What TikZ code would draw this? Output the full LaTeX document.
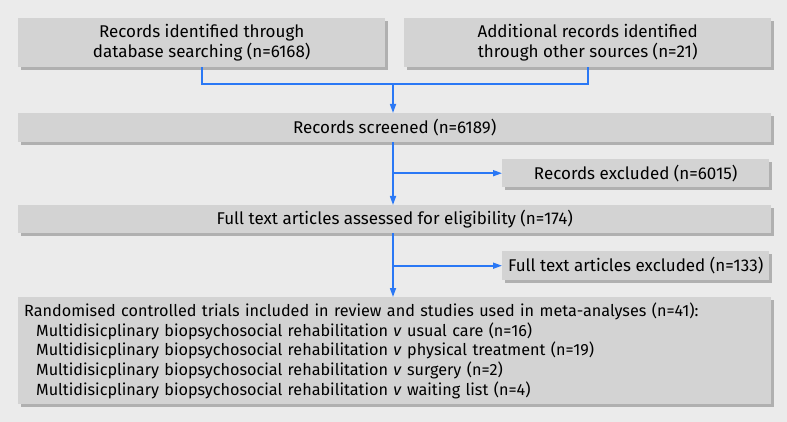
\documentclass[tikz,border=0pt]{standalone}
\usepackage{fontspec}
\setmainfont{Fira Sans}
\usetikzlibrary{arrows.meta,shadows}
\definecolor{bg}{HTML}{EBEBEB}
\definecolor{boxfill}{HTML}{D3D3D3}
\definecolor{shadowc}{HTML}{B0B0B0}
\definecolor{arrowblue}{HTML}{2A78F5}
\begin{document}
\begin{tikzpicture}[x=1pt,y=-1pt,
  box/.style={fill=boxfill, draw=none, anchor=north west, inner sep=0pt,
    font=\fontsize{17}{20}\selectfont, align=center,
    drop shadow={shadow xshift=2.5pt, shadow yshift=-2.5pt, fill=shadowc, opacity=1}},
  conn/.style={draw=arrowblue, line width=1.6pt},
  arr/.style={conn, -{Triangle[length=9pt,width=6pt]}}]
\useasboundingbox (0,0) rectangle (787,422);
\fill[bg] (0,0) rectangle (787,422);
\node[box, minimum width=367pt, minimum height=49pt] (b1) at (18,18) {Records identified through\\database searching (n=6168)};
\node[box, minimum width=367pt, minimum height=49pt] (b2) at (404,18) {Additional records identified\\through other sources (n=21)};
\node[box, minimum width=753pt, minimum height=29pt] (b3) at (18,113) {Records screened (n=6189)};
\node[box, minimum width=267pt, minimum height=28pt] (e1) at (502,159) {Records excluded (n=6015)};
\node[box, minimum width=753pt, minimum height=28pt] (b4) at (18,205) {Full text articles assessed for eligibility (n=174)};
\node[box, minimum width=267pt, minimum height=29pt] (e2) at (502,251) {Full text articles excluded (n=133)};
\node[box, minimum width=753pt, minimum height=107pt, align=left, text width=741pt,
  font=\fontsize{16.2}{19.7}\selectfont] (b5) at (18,297) {Randomised controlled trials included in review and studies used in meta-analyses (n=41):\\
\hspace*{12pt}Multidisicplinary biopsychosocial rehabilitation \textit{v} usual care (n=16)\\
\hspace*{12pt}Multidisicplinary biopsychosocial rehabilitation \textit{v} physical treatment (n=19)\\
\hspace*{12pt}Multidisicplinary biopsychosocial rehabilitation \textit{v} surgery (n=2)\\
\hspace*{12pt}Multidisicplinary biopsychosocial rehabilitation \textit{v} waiting list (n=4)};
\coordinate (m) at (393,84);
\draw[conn] (b1.south) -- (b1.south |- m) -- (b2.south |- m) -- (b2.south);
\draw[arr] (m) -- (m |- b3.north);
\draw[arr] (m |- b3.south) -- (m |- b4.north);
\draw[arr] (m |- e1.west) -- (e1.west);
\draw[arr] (m |- b4.south) -- (m |- b5.north);
\draw[arr] (m |- e2.west) -- (e2.west);
\end{tikzpicture}
\end{document}
